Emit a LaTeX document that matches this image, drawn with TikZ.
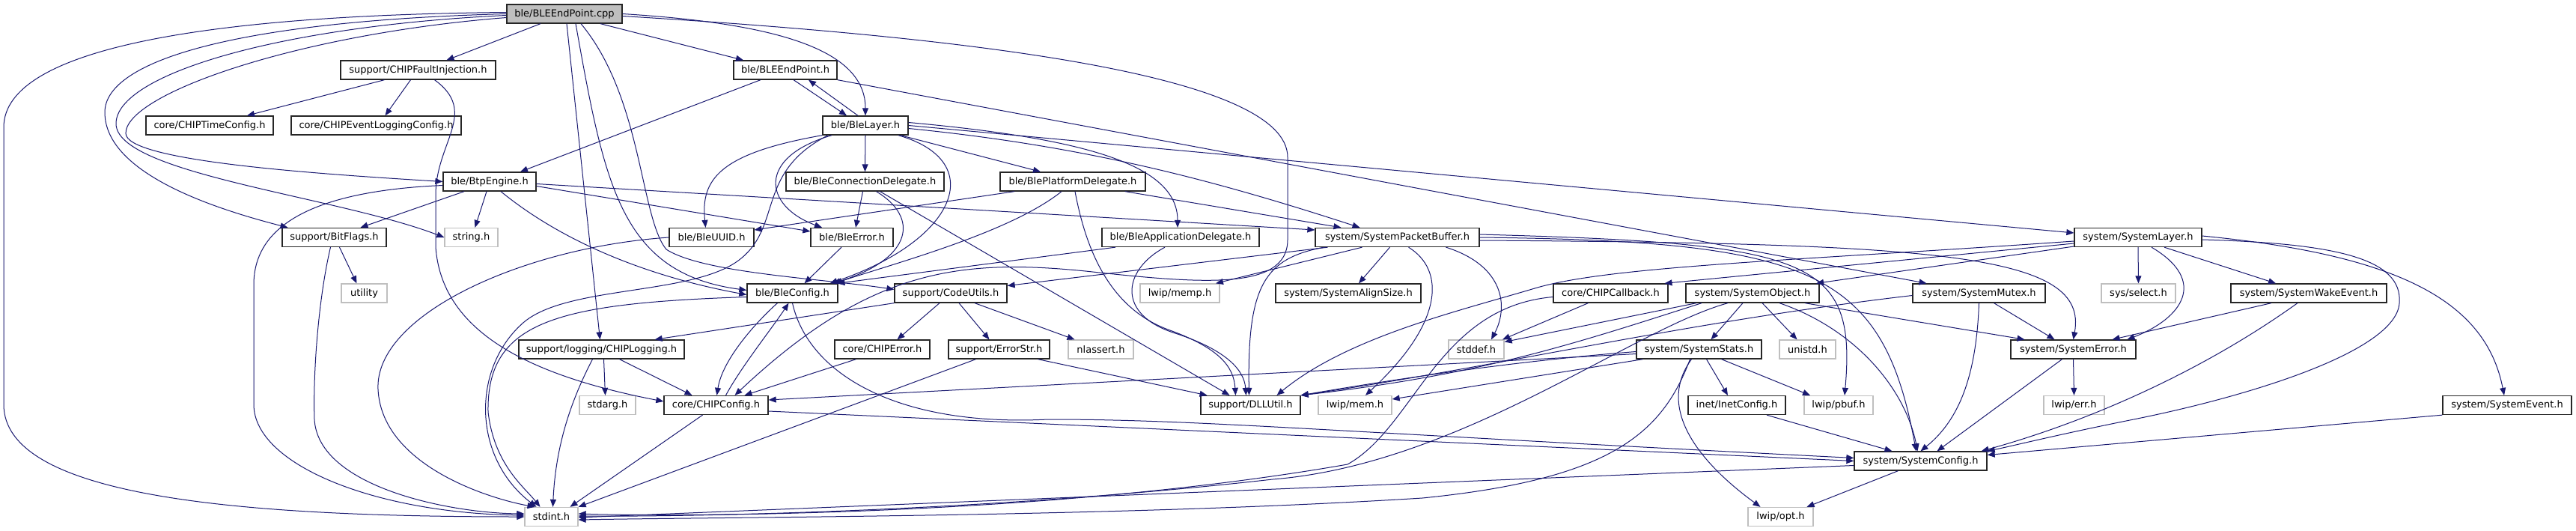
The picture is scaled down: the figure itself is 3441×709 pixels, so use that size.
\documentclass[tikz,border=0pt]{standalone}
\usepackage{fontspec}
\setmainfont{DejaVu Sans}
\usetikzlibrary{arrows.meta}

\definecolor{incblue}{HTML}{191970}
\definecolor{lightframe}{HTML}{BFBFBF}

\begin{document}
\begin{tikzpicture}[x=1pt, y=-1pt,
  every node/.style={font=\fontsize{13}{15}\selectfont},
  hdr/.style={draw=black!85, line width=1.3pt, fill=white, minimum height=25pt, inner sep=0pt},
  syshdr/.style={hdr, draw=lightframe},
  srcfile/.style={hdr, fill=lightframe},
  inc/.style={draw=incblue, line width=1pt, -{Triangle[length=10pt,width=8pt]}}]
  \useasboundingbox (0,0) rectangle (3441,709);

  % fichiers
  \node[srcfile, minimum width=154pt] (cpp) at (754,18.5) {ble/BLEEndPoint.cpp};
  \node[hdr, minimum width=207pt] (faultinj) at (558.5,93.5) {support/CHIPFaultInjection.h};
  \node[hdr, minimum width=138pt] (bleep) at (1049,93.5) {ble/BLEEndPoint.h};
  \node[hdr, minimum width=170pt] (timecfg) at (280,167.5) {core/CHIPTimeConfig.h};
  \node[hdr, minimum width=227pt] (evtcfg) at (502.5,167.5) {core/CHIPEventLoggingConfig.h};
  \node[hdr, minimum width=114pt] (blelayer) at (1156,167.5) {ble/BleLayer.h};
  \node[hdr, minimum width=124pt] (btp) at (654,242.5) {ble/BtpEngine.h};
  \node[hdr, minimum width=211pt] (conndel) at (1155.5,242.5) {ble/BleConnectionDelegate.h};
  \node[hdr, minimum width=194pt] (platdel) at (1433,242.5) {ble/BlePlatformDelegate.h};
  \node[hdr, minimum width=139pt] (bitflags) at (446.5,317) {support/BitFlags.h};
  \node[syshdr, minimum width=71pt] (string) at (629.5,317) {string.h};
  \node[hdr, minimum width=113pt] (uuid) at (950.5,317) {ble/BleUUID.h};
  \node[hdr, minimum width=110pt] (bleerror) at (1138,317) {ble/BleError.h};
  \node[hdr, minimum width=210pt] (appdel) at (1577,317) {ble/BleApplicationDelegate.h};
  \node[hdr, minimum width=219pt] (pktbuf) at (1866.5,317) {system/SystemPacketBuffer.h};
  \node[hdr, minimum width=170pt] (syslayer) at (2856,317) {system/SystemLayer.h};
  \node[syshdr, minimum width=61pt] (utility) at (486.5,391.5) {utility};
  \node[hdr, minimum width=121pt] (bleconfig) at (1058.5,391.5) {ble/BleConfig.h};
  \node[hdr, minimum width=150pt] (codeutils) at (1270,391.5) {support/CodeUtils.h};
  \node[syshdr, minimum width=106pt] (memp) at (1576,391.5) {lwip/memp.h};
  \node[hdr, minimum width=194pt] (alignsize) at (1801,391.5) {system/SystemAlignSize.h};
  \node[hdr, minimum width=153pt] (callback) at (2151.5,391.5) {core/CHIPCallback.h};
  \node[hdr, minimum width=178pt] (sysobject) at (2341,391.5) {system/SystemObject.h};
  \node[hdr, minimum width=177pt] (mutex) at (2643.5,391.5) {system/SystemMutex.h};
  \node[syshdr, minimum width=99pt] (select) at (2856.5,391.5) {sys/select.h};
  \node[hdr, minimum width=208pt] (wakeevent) at (3084,391.5) {system/SystemWakeEvent.h};
  \node[hdr, minimum width=221pt] (logging) at (803.5,466.5) {support/logging/CHIPLogging.h};
  \node[hdr, minimum width=127pt] (chiperror) at (1178.5,466.5) {core/CHIPError.h};
  \node[hdr, minimum width=135pt] (errorstr) at (1334.5,466.5) {support/ErrorStr.h};
  \node[syshdr, minimum width=87pt] (nlassert) at (1470.5,466.5) {nlassert.h};
  \node[syshdr, minimum width=74pt] (stddef) at (1972,466.5) {stddef.h};
  \node[hdr, minimum width=167pt] (sysstats) at (2269.5,466.5) {system/SystemStats.h};
  \node[syshdr, minimum width=75pt] (unistd) at (2414.5,466.5) {unistd.h};
  \node[hdr, minimum width=167pt] (syserror) at (2769.5,466.5) {system/SystemError.h};
  \node[syshdr, minimum width=75pt] (stdarg) at (811.5,541) {stdarg.h};
  \node[hdr, minimum width=139pt] (chipconfig) at (956.5,541) {core/CHIPConfig.h};
  \node[hdr, minimum width=133pt] (dllutil) at (1670.5,541) {support/DLLUtil.h};
  \node[syshdr, minimum width=98pt] (lwipmem) at (1810,541) {lwip/mem.h};
  \node[hdr, minimum width=130pt] (inetconfig) at (2320,541) {inet/InetConfig.h};
  \node[syshdr, minimum width=92pt] (pbuf) at (2456,541) {lwip/pbuf.h};
  \node[syshdr, minimum width=81pt] (errh) at (2770.5,541) {lwip/err.h};
  \node[hdr, minimum width=172pt] (sysevent) at (3349,541) {system/SystemEvent.h};
  \node[hdr, minimum width=177pt] (sysconfig) at (2565.5,615.5) {system/SystemConfig.h};
  \node[syshdr, minimum width=71pt] (stdint) at (736.5,690) {stdint.h};
  \node[syshdr, minimum width=87pt] (opt) at (2378.5,690) {lwip/opt.h};

  % includes de BLEEndPoint.cpp
  \draw[inc] ([yshift=2pt]cpp.west) .. controls (300,20) and (5,60) .. (5,170) -- (5,540) .. controls (5,660) and (300,690) .. (stdint.west);
  \draw[inc] (cpp.west) .. controls (320,28) and (140,80) .. (140,150) .. controls (140,235) and (300,282) .. ([xshift=-62pt]bitflags.north);
  \draw[inc] ([yshift=-2pt]cpp.west) .. controls (370,35) and (155,100) .. (155,165) .. controls (155,232) and (450,262) .. (string.west);
  \draw[inc] ([yshift=-5pt]cpp.west) .. controls (400,45) and (168,125) .. (168,178) .. controls (168,215) and (420,232) .. (btp.west);
  \draw[inc] ([xshift=-32pt]cpp.south) -- ([xshift=38pt]faultinj.north);
  \draw[inc] ([xshift=48pt]cpp.south) -- ([xshift=-56pt]bleep.north);
  \draw[inc] (cpp.east) .. controls (1050,32) and (1156,70) .. (blelayer.north);
  \draw[inc] ([yshift=-3pt]cpp.east) .. controls (1300,50) and (1720,100) .. (1720,210) -- (1720,320) .. controls (1720,390) and (1600,378) .. (1450,362) .. controls (1280,345) and (1160,360) .. ([xshift=25pt]chipconfig.north);
  \draw[inc] ([xshift=3pt]cpp.south) -- ([xshift=-2pt]logging.north);
  \draw[inc] ([xshift=15pt]cpp.south) .. controls (808,250) and (830,365) .. ([yshift=4pt]bleconfig.west);
  \draw[inc] ([xshift=22pt]cpp.south) .. controls (858,130) and (855,290) .. (890,333) .. controls (940,365) and (1100,372) .. ([yshift=5pt]codeutils.west);

  % ble
  \draw[inc] ([xshift=-33pt]bleep.south) -- ([xshift=41pt]btp.north);
  \draw[inc] ([xshift=11pt]bleep.south) -- ([xshift=-25pt]blelayer.north);
  \draw[inc] ([xshift=-10pt]blelayer.north) -- ([xshift=31pt]bleep.south);
  \draw[inc] (bleep.south east) -- ([xshift=-70pt]mutex.north);
  \draw[inc] (blelayer.south west) .. controls (960,205) and (936,240) .. ([xshift=-8pt]uuid.north);
  \draw[inc] ([xshift=-50pt]blelayer.south) .. controls (1010,230) and (1045,300) .. (990,345) .. controls (930,395) and (760,380) .. (700,430) .. controls (630,490) and (630,610) .. ([xshift=-20pt]stdint.north);
  \draw[inc] ([xshift=-45pt]blelayer.south) .. controls (1010,210) and (1020,275) .. ([xshift=-40pt]bleerror.north);
  \draw[inc] (blelayer.south) -- (conndel.north);
  \draw[inc] ([xshift=44pt]blelayer.south) .. controls (1320,215) and (1280,320) .. ([xshift=50pt]bleconfig.north);
  \draw[inc] ([xshift=47pt]blelayer.south) -- ([xshift=-43pt]platdel.north);
  \draw[inc] ([yshift=4pt]blelayer.east) .. controls (1450,185) and (1573,220) .. ([xshift=-4pt]appdel.north);
  \draw[inc] (blelayer.east) -- ([yshift=6pt]syslayer.west);
  \draw[inc] ([yshift=-4pt]blelayer.east) .. controls (1450,195) and (1620,240) .. ([xshift=-50pt]pktbuf.north);
  \draw[inc] ([yshift=-5pt]btp.west) .. controls (420,255) and (339,300) .. (339,380) -- (339,540) .. controls (339,620) and (500,685) .. ([yshift=2pt]stdint.west);
  \draw[inc] ([xshift=-34pt]btp.south) -- ([xshift=35pt]bitflags.north);
  \draw[inc] ([xshift=-4pt]btp.south) -- ([xshift=5pt]string.north);
  \draw[inc] ([xshift=15pt]btp.south) .. controls (760,330) and (880,372) .. ([yshift=-2pt]bleconfig.west);
  \draw[inc] ([yshift=-3pt]btp.east) -- ([yshift=10pt]pktbuf.west);
  \draw[inc] ([yshift=-6pt]btp.east) -- ([yshift=8pt]bleerror.west);
  \draw[inc] ([xshift=-45pt]faultinj.south) -- ([xshift=50pt]timecfg.north);
  \draw[inc] ([xshift=-10pt]faultinj.south) -- ([xshift=12pt]evtcfg.north);
  \draw[inc] ([xshift=22pt]faultinj.south) .. controls (640,150) and (582,190) .. (582,260) -- (582,330) .. controls (590,440) and (700,500) .. ([yshift=5pt]chipconfig.west);
  \draw[inc] ([xshift=7pt]bitflags.south) -- ([xshift=-10pt]utility.north);
  \draw[inc] ([xshift=-5pt]bitflags.south) .. controls (425,400) and (418,500) .. (420,560) .. controls (425,650) and (600,685) .. ([yshift=4pt]stdint.west);
  \draw[inc] ([xshift=-3pt]conndel.south) -- ([xshift=5pt]bleerror.north);
  \draw[inc] ([xshift=15pt]conndel.south) .. controls (1228,290) and (1220,345) .. ([xshift=54pt]bleconfig.north);
  \draw[inc] ([xshift=20pt]conndel.south) -- ([xshift=-28pt]dllutil.north);
  \draw[inc] ([xshift=-78pt]platdel.south) -- ([yshift=10pt]uuid.east);
  \draw[inc] ([xshift=-15pt]platdel.south) .. controls (1350,310) and (1200,350) .. ([xshift=56pt]bleconfig.north);
  \draw[inc] ([xshift=3pt]platdel.south) .. controls (1450,330) and (1480,410) .. (1560,440) .. controls (1630,465) and (1648,490) .. ([xshift=-20pt]dllutil.north);
  \draw[inc] ([xshift=70pt]platdel.south) -- ([xshift=-75pt]pktbuf.north);
  \draw[inc] ([xshift=-87pt]appdel.south) -- ([xshift=60pt]bleconfig.north);
  \draw[inc] ([xshift=-21pt]appdel.south) .. controls (1500,360) and (1490,420) .. (1570,445) .. controls (1640,468) and (1662,495) .. ([xshift=-6pt]dllutil.north);
  \draw[inc] (uuid.west) .. controls (700,330) and (500,420) .. (505,520) .. controls (510,620) and (650,665) .. ([xshift=-22pt]stdint.north);
  \draw[inc] ([xshift=-14pt]bleerror.south) -- ([xshift=16pt]bleconfig.north);

  % system
  \draw[inc] ([xshift=-93pt]pktbuf.south) -- ([yshift=10pt]codeutils.east);
  \draw[inc] ([xshift=-98pt]pktbuf.south) .. controls (1690,345) and (1666,380) .. ([xshift=-2pt]dllutil.north);
  \draw[inc] ([xshift=-47pt]pktbuf.south) -- ([xshift=48pt]memp.north);
  \draw[inc] ([xshift=-10pt]pktbuf.south) -- ([xshift=14pt]alignsize.north);
  \draw[inc] ([xshift=15pt]pktbuf.south) .. controls (1930,360) and (1930,430) .. ([xshift=14pt]lwipmem.north);
  \draw[inc] ([xshift=65pt]pktbuf.south) .. controls (2010,355) and (2015,410) .. ([xshift=20pt]stddef.north);
  \draw[inc] ([yshift=4pt]pktbuf.east) .. controls (2420,325) and (2480,345) .. ([xshift=8pt]pbuf.north);
  \draw[inc] (pktbuf.east) .. controls (2420,322) and (2515,360) .. ([xshift=-6pt]sysconfig.north);
  \draw[inc] ([yshift=-4pt]pktbuf.east) .. controls (2600,325) and (2790,340) .. (syserror.north);
  \draw[inc] ([yshift=-5pt]syslayer.west) .. controls (2400,348) and (2150,355) .. (2050,385) .. controls (1950,415) and (1800,450) .. ([xshift=35pt]dllutil.north);
  \draw[inc] ([yshift=-8pt]syslayer.west) -- ([xshift=72pt]callback.north);
  \draw[inc] ([yshift=-12pt]syslayer.west) -- ([xshift=85pt]sysobject.north);
  \draw[inc] (syslayer.south) -- (select.north);
  \draw[inc] ([xshift=18pt]syslayer.south) .. controls (2950,375) and (2915,425) .. ([xshift=72pt]syserror.north);
  \draw[inc] ([xshift=35pt]syslayer.south) -- ([xshift=-44pt]wakeevent.north);
  \draw[inc] ([yshift=2pt]syslayer.east) .. controls (3200,340) and (3320,400) .. ([xshift=-4pt]sysevent.north);
  \draw[inc] ([yshift=-3pt]syslayer.east) .. controls (3120,325) and (3210,345) .. (3205,405) .. controls (3200,470) and (3000,530) .. (2850,560) .. controls (2750,580) and (2690,595) .. (sysconfig.north east);
  \draw[inc] ([xshift=-30pt]callback.south) -- ([xshift=35pt]stddef.north);
  \draw[inc] ([yshift=-5pt]callback.west) .. controls (1920,410) and (1890,570) .. (1800,620) .. controls (1400,690) and (900,690) .. ([yshift=4pt]stdint.east);
  \draw[inc] ([xshift=-75pt]sysobject.south) -- ([yshift=10pt]stddef.east);
  \draw[inc] ([xshift=-68pt]sysobject.south) .. controls (2100,460) and (1980,500) .. (dllutil.north east);
  \draw[inc] ([xshift=-33pt]sysobject.south) .. controls (2180,440) and (1950,620) .. (1700,640) .. controls (1300,685) and (900,690) .. ([yshift=1pt]stdint.east);
  \draw[inc] ([xshift=-13pt]sysobject.south) -- ([xshift=16pt]sysstats.north);
  \draw[inc] ([xshift=13pt]sysobject.south) -- ([xshift=-14pt]unistd.north);
  \draw[inc] ([xshift=36pt]sysobject.south) .. controls (2480,440) and (2545,520) .. ([xshift=-4pt]sysconfig.north);
  \draw[inc] ([xshift=70pt]sysobject.south) -- ([xshift=-65pt]syserror.north);
  \draw[inc] ([yshift=-6pt]sysstats.west) -- ([yshift=7pt]chipconfig.east);
  \draw[inc] ([yshift=-3pt]sysstats.west) .. controls (2050,480) and (1900,500) .. (dllutil.north east);
  \draw[inc] ([xshift=-75pt]sysstats.south) -- ([yshift=8pt]lwipmem.east);
  \draw[inc] ([xshift=10pt]sysstats.south) -- ([xshift=-12pt]inetconfig.north);
  \draw[inc] ([xshift=30pt]sysstats.south) -- ([xshift=-38pt]pbuf.north);
  \draw[inc] ([xshift=-10pt]sysstats.south) .. controls (2215,540) and (2260,610) .. ([xshift=-27pt]opt.north);
  \draw[inc] ([xshift=-12pt]sysstats.south) .. controls (2220,580) and (2150,640) .. (1900,665) .. controls (1500,690) and (1000,690) .. ([yshift=-4pt]stdint.east);
  \draw[inc] ([yshift=-3pt]mutex.west) .. controls (2250,430) and (2000,490) .. (dllutil.north east);
  \draw[inc] ([xshift=20pt]mutex.south) -- ([xshift=-25pt]syserror.north);
  \draw[inc] (mutex.south) .. controls (2640,500) and (2618,560) .. (sysconfig.north);
  \draw[inc] ([xshift=-50pt]wakeevent.south) -- ([xshift=52pt]syserror.north);
  \draw[inc] ([xshift=-15pt]wakeevent.south) .. controls (2950,490) and (2800,560) .. ([xshift=-8pt]sysconfig.north east);
  \draw[inc] ([xshift=-15pt]syserror.south) -- ([xshift=22pt]sysconfig.north);
  \draw[inc] (syserror.south) -- (errh.north);
  \draw[inc] ([xshift=40pt]inetconfig.south) -- ([xshift=-38pt]sysconfig.north);
  \draw[inc] (sysevent.south west) -- ([yshift=8pt]sysconfig.east);
  \draw[inc] ([xshift=-30pt]sysconfig.south) -- ([xshift=35pt]opt.north);
  \draw[inc] ([yshift=-6pt]sysconfig.west) -- ([yshift=-1pt]stdint.east);

  % support et core
  \draw[inc] (codeutils.south west) -- ([xshift=-40pt]logging.north east);
  \draw[inc] ([xshift=-15pt]codeutils.south) -- ([xshift=20pt]chiperror.north);
  \draw[inc] ([xshift=11pt]codeutils.south) -- ([xshift=-13pt]errorstr.north);
  \draw[inc] ([xshift=32pt]codeutils.south) -- ([xshift=-35pt]nlassert.north);
  \draw[inc] ([xshift=3pt]logging.south) -- ([xshift=-3pt]stdarg.north);
  \draw[inc] ([xshift=-12pt]logging.south) .. controls (760,540) and (742,600) .. ([xshift=2pt]stdint.north);
  \draw[inc] ([xshift=24pt]logging.south) -- ([xshift=-32pt]chipconfig.north);
  \draw[inc] ([xshift=-35pt]chiperror.south) -- ([xshift=38pt]chipconfig.north);
  \draw[inc] ([xshift=-31pt]errorstr.south) -- (stdint.north east);
  \draw[inc] ([xshift=52pt]errorstr.south) -- ([xshift=-58pt]dllutil.north);
  \draw[inc] ([xshift=-20pt]bleconfig.south) .. controls (1010,430) and (965,480) .. ([xshift=1pt]chipconfig.north);
  \draw[inc] ([xshift=13pt]chipconfig.north) .. controls (990,490) and (1030,440) .. ([xshift=-5pt]bleconfig.south);
  \draw[inc] ([yshift=-5pt]bleconfig.west) .. controls (740,405) and (650,430) .. (652,550) .. controls (660,620) and (700,650) .. ([xshift=-15pt]stdint.north);
  \draw[inc] (bleconfig.south) .. controls (1080,500) and (1200,570) .. (1400,560) .. controls (1600,560) and (1750,575) .. ([yshift=4pt]sysconfig.west);
  \draw[inc] ([yshift=-8pt]chipconfig.east) -- (sysconfig.west);
  \draw[inc] ([xshift=-18pt]chipconfig.south) -- ([xshift=25pt]stdint.north);
\end{tikzpicture}
\end{document}
